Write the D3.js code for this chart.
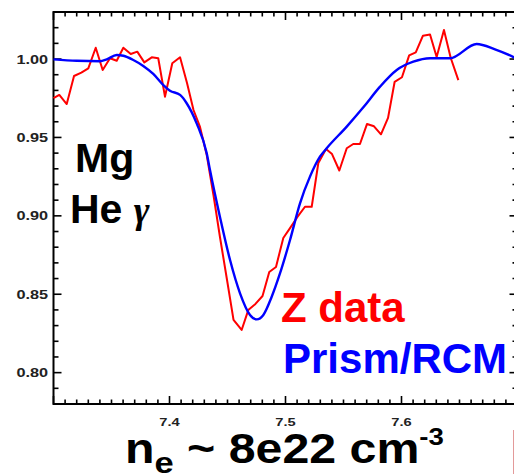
<!DOCTYPE html>
<html><head><meta charset="utf-8">
<script src="https://cdn.jsdelivr.net/npm/d3@7"></script>
<style>html,body{margin:0;padding:0;background:#fff;}svg{display:block;}</style>
</head><body>
<svg id="c" width="514" height="474"></svg>
<script>
// ---- data ----
const zDataX = [7.3000,7.3050,7.3114,7.3177,7.3240,7.3300,7.3364,7.3424,7.3487,7.3545,7.3602,7.3666,7.3722,7.3783,7.3847,7.3903,7.3961,7.4024,7.4091,7.4151,7.4207,7.4263,7.4321,7.4379,7.4435,7.4496,7.4552,7.4622,7.4679,7.4741,7.4802,7.4860,7.4918,7.4981,7.5039,7.5103,7.5168,7.5226,7.5283,7.5349,7.5401,7.5464,7.5528,7.5584,7.5642,7.5703,7.5763,7.5823,7.5884,7.5941,7.6004,7.6066,7.6123,7.6185,7.6246,7.6303,7.6366,7.6424,7.6490];
const zDataY = [0.9750,0.9771,0.9713,0.9892,0.9913,0.9941,1.0072,0.9930,1.0005,0.9989,1.0072,1.0032,1.0047,0.9979,1.0011,1.0005,0.9760,0.9973,1.0011,0.9847,0.9675,0.9567,0.9388,0.9133,0.8865,0.8591,0.8336,0.8272,0.8399,0.8438,0.8489,0.8642,0.8674,0.8859,0.8922,0.8993,0.9058,0.9058,0.9337,0.9426,0.9394,0.9289,0.9431,0.9458,0.9458,0.9586,0.9571,0.9520,0.9625,0.9855,0.9884,1.0023,1.0042,1.0149,1.0157,1.0013,1.0185,1.0008,0.9866];
const modelX = [7.3000,7.3200,7.3401,7.3459,7.3545,7.3602,7.3688,7.3774,7.3860,7.3947,7.4004,7.4091,7.4148,7.4234,7.4321,7.4349,7.4435,7.4522,7.4608,7.4694,7.4752,7.4809,7.4881,7.4953,7.5039,7.5125,7.5211,7.5297,7.5355,7.5528,7.5671,7.5815,7.5959,7.6102,7.6246,7.6418,7.6648,7.6806,7.6970,7.7000];
const modelY = [0.9998,0.9989,0.9986,0.9998,1.0026,1.0021,0.9994,0.9956,0.9905,0.9834,0.9798,0.9771,0.9718,0.9590,0.9399,0.9292,0.8993,0.8718,0.8506,0.8368,0.8340,0.8368,0.8484,0.8634,0.8846,0.9080,0.9250,0.9377,0.9431,0.9569,0.9692,0.9824,0.9930,0.9983,1.0005,1.0005,1.0096,1.0062,1.0011,1.0000];
const xMajorTicks = [7.3,7.4,7.5,7.6,7.7];
const xTickLabels = ["7.4","7.5","7.6"];
const yMajorTicks = [0.80,0.85,0.90,0.95,1.00];
const yTickLabels = ["0.80","0.85","0.90","0.95","1.00"];
const seriesNames = ["Z data","Prism/RCM"];

// ---- layout ----
const svg = d3.select("#c");
const x = d3.scaleLinear().domain([7.3,7.7]).range([53.5,517.5]);
const y = d3.scaleLinear().domain([0.78,1.03]).range([404,12]);
const L = x(7.3), R = x(7.7), T = y(1.03), B = y(0.78);

const xMinor = d3.range(0,41).map(i => 7.3 + i*0.01);
const yMinor = d3.range(0,26).map(i => 0.78 + i*0.01);
const isMajX = v => xMajorTicks.some(t => Math.abs(t-v)<1e-6);
const isMajY = v => yMajorTicks.some(t => Math.abs(t-v)<1e-6);

const ax = svg.append("g").attr("stroke","#000").attr("stroke-width",1.6);
xMinor.forEach(v => {
  const len = isMajX(v) ? 8 : 4.5;
  ax.append("line").attr("x1",x(v)).attr("x2",x(v)).attr("y1",B).attr("y2",B-len);
  ax.append("line").attr("x1",x(v)).attr("x2",x(v)).attr("y1",T).attr("y2",T+len);
});
yMinor.forEach(v => {
  const len = isMajY(v) ? 8 : 5;
  ax.append("line").attr("x1",L).attr("x2",L+len).attr("y1",y(v)).attr("y2",y(v));
  ax.append("line").attr("x1",R).attr("x2",R-len).attr("y1",y(v)).attr("y2",y(v));
});
svg.append("rect").attr("x",L).attr("y",T).attr("width",R-L).attr("height",B-T)
  .attr("fill","none").attr("stroke","#000").attr("stroke-width",2);

// tick labels
xTickLabels.forEach(t => {
  svg.append("text").attr("transform",`translate(${x(+t)},426) scale(1.4,1)`)
    .attr("text-anchor","middle").attr("font-family","Liberation Sans, Arial, sans-serif")
    .attr("font-weight","bold").attr("font-size",10.5).attr("fill","#222").text(t);
});
yTickLabels.forEach(t => {
  svg.append("text").attr("transform",`translate(48,${y(+t)+4.6}) scale(1.25,1)`)
    .attr("text-anchor","end").attr("font-family","Liberation Sans, Arial, sans-serif")
    .attr("font-weight","bold").attr("font-size",13).attr("fill","#222").text(t);
});

// lines
const red = d3.line().x(d=>x(d[0])).y(d=>y(d[1]));
const blue = d3.line().x(d=>x(d[0])).y(d=>y(d[1])).curve(d3.curveMonotoneX);
svg.append("path").datum(zDataX.map((v,i)=>[v,zDataY[i]])).attr("d",red)
  .attr("fill","none").attr("stroke","#ff0000").attr("stroke-width",2).attr("stroke-linejoin","round");
svg.append("path").datum(modelX.map((v,i)=>[v,modelY[i]])).attr("d",blue)
  .attr("fill","none").attr("stroke","#0000ff").attr("stroke-width",2.4).attr("stroke-linejoin","round");

// annotations
const big = {"font-family":"Liberation Sans, Arial, sans-serif","font-weight":"bold","font-size":41};
function txt(xx,yy,s,col,fs){const t=svg.append("text").attr("x",xx).attr("y",yy).attr("fill",col).text(s);Object.entries(big).forEach(([k,v])=>t.attr(k,v));if(fs)t.attr("font-size",fs);return t;}
txt(75,171.5,"Mg","#000");
const he = txt(70,223,"He ","#000");
he.append("tspan").attr("font-family","Liberation Serif, serif").attr("font-style","italic").attr("font-size",38).text("γ");
txt(281,321.5,seriesNames[0],"#ff0000",42);
txt(283,373,seriesNames[1],"#0000ff",42);

// axis title
const title = svg.append("text").attr("transform","translate(125,463) scale(1.15,1)")
  .attr("font-family","Liberation Sans, Arial, sans-serif").attr("font-weight","bold").attr("font-size",42).attr("fill","#000");
title.append("tspan").text("n");
title.append("tspan").attr("font-size",30).attr("dy",10).text("e");
title.append("tspan").attr("dy",-10).text(" ~ 8e22 cm");
title.append("tspan").attr("font-size",24).attr("dy",-18).text("-3");

svg.append("line").attr("x1",513.5).attr("x2",513.5).attr("y1",430).attr("y2",474).attr("stroke","#e39a9a").attr("stroke-width",1);
</script>
</body></html>
